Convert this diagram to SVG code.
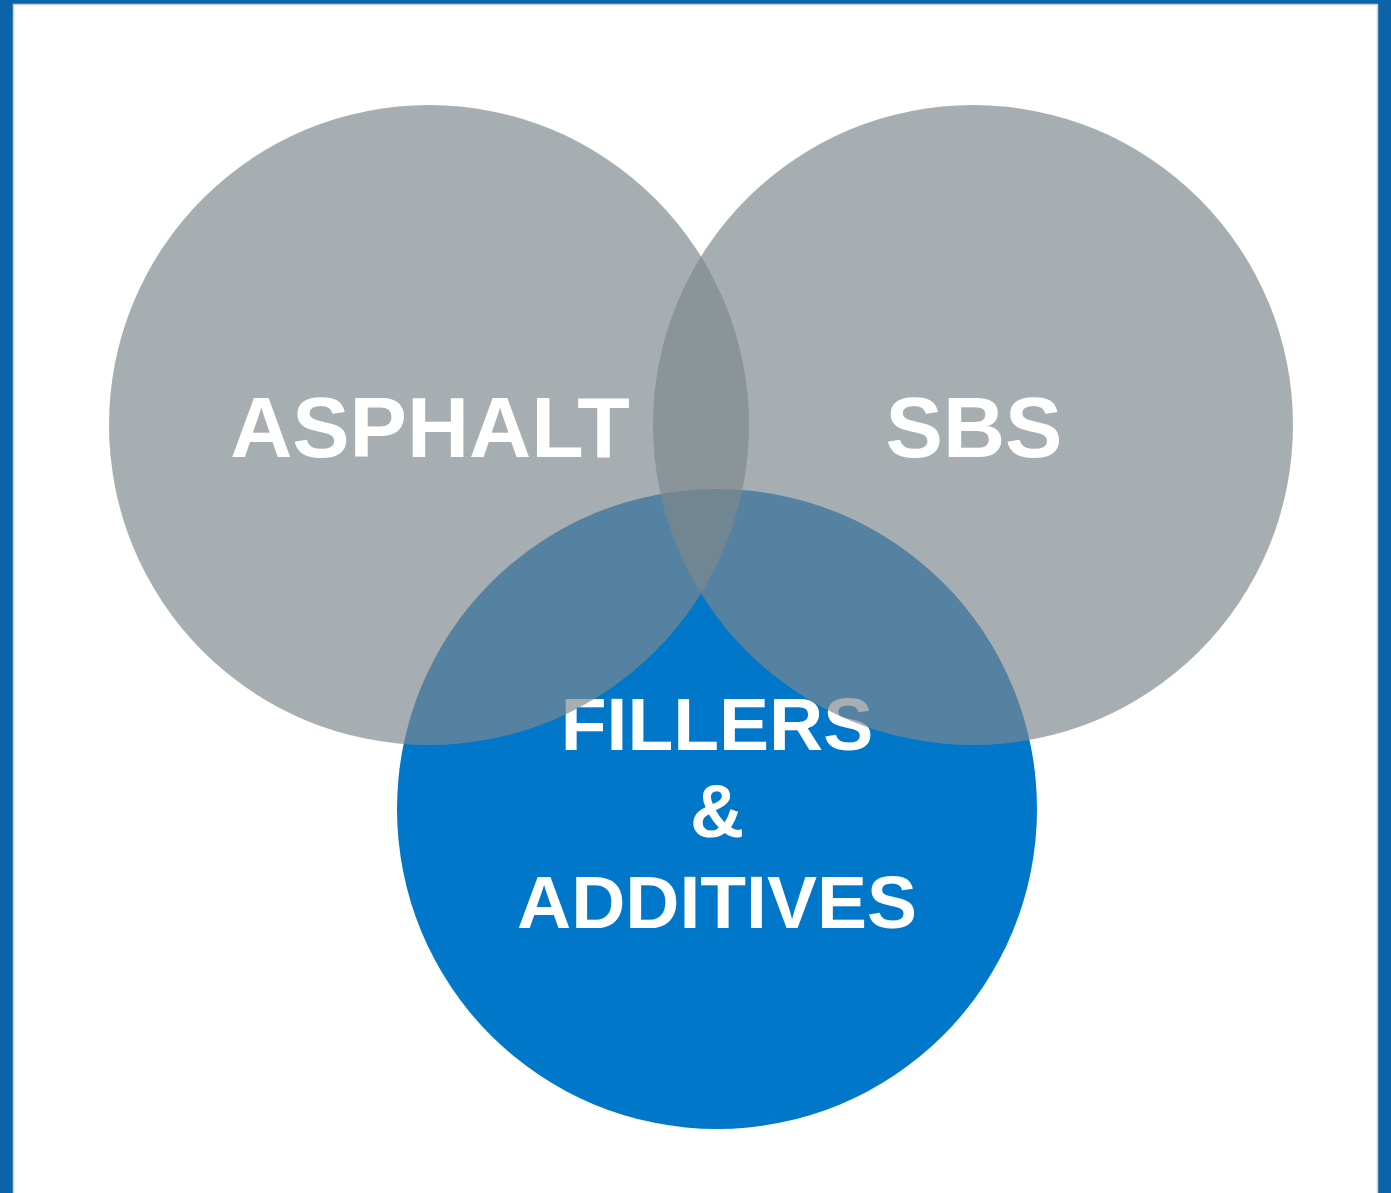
<svg xmlns="http://www.w3.org/2000/svg" width="1391" height="1193" viewBox="0 0 1391 1193">
<style>
.lbl{font-family:"Liberation Sans",Arial,sans-serif;font-weight:bold;fill:#FFFFFF;text-anchor:middle}
.gray{fill:#7D888E;fill-opacity:0.68}
</style>
<rect x="0" y="0" width="1391" height="1193" fill="#0B64A8"/>
<rect x="13.5" y="4.5" width="1364" height="1200" fill="#FFFFFF" stroke="#C9D2DA" stroke-width="1.5"/>
<g id="fillers">
<circle cx="717" cy="809" r="320" fill="#0077C8"/>
<text class="lbl" x="717" y="750" font-size="75">FILLERS</text>
<text class="lbl" x="717" y="837" font-size="75">&amp;</text>
<text class="lbl" x="717" y="928" font-size="75">ADDITIVES</text>
</g>
<g id="asphalt">
<circle class="gray" cx="429" cy="425" r="320"/>
<text class="lbl" x="430" y="457" font-size="86">ASPHALT</text>
</g>
<g id="sbs">
<circle class="gray" cx="973" cy="425" r="320"/>
<text class="lbl" x="974" y="457" font-size="86">SBS</text>
</g>
<g id="connectors"/>
</svg>
